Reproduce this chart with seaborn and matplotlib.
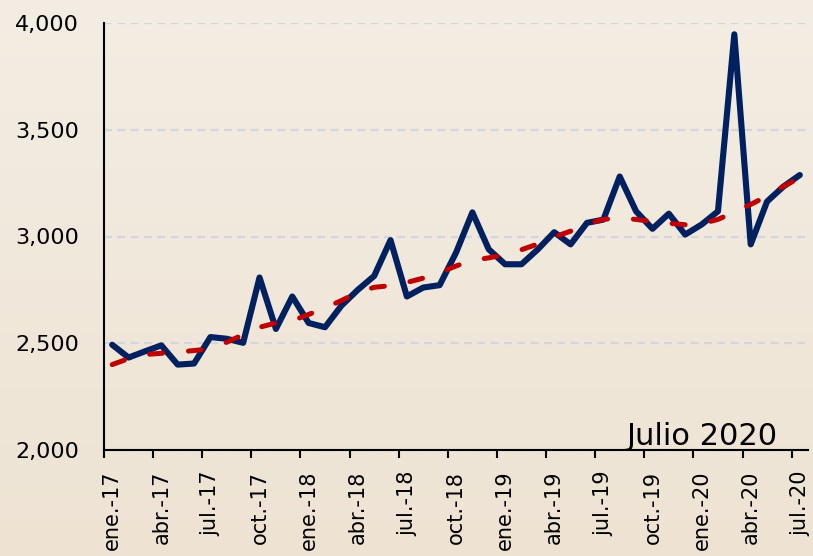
####################     importations     ####################
import numpy as np
import pandas as pd
import matplotlib
matplotlib.use('Agg')
import seaborn as sns
import matplotlib.pyplot as plt
from matplotlib.ticker import FuncFormatter


####################       donnees        ####################

# serie mensuelle ene-17 ... jul-20 (43 meses)
valores = [2493, 2433, 2462, 2490, 2400, 2405, 2529, 2521, 2502, 2808,
           2567, 2719, 2595, 2575, 2676, 2750, 2815, 2983, 2719, 2761,
           2772, 2924, 3113, 2940, 2870, 2870, 2940, 3020, 2963, 3064,
           3079, 3281, 3118, 3036, 3107, 3009, 3056, 3118, 3947, 2963,
           3164, 3234, 3288]

# tendencia (linea roja discontinua)
tendencia = [2400, 2428, 2447, 2453, 2458, 2466, 2474, 2505, 2540, 2575,
             2595, 2605, 2635, 2665, 2700, 2738, 2762, 2770, 2785, 2805,
             2830, 2862, 2888, 2900, 2915, 2938, 2965, 2998, 3025, 3060,
             3080, 3087, 3080, 3070, 3062, 3055, 3060, 3080, 3115, 3150,
             3190, 3235, 3275]

etiquetas = ['ene.-17', 'abr.-17', 'jul.-17', 'oct.-17',
             'ene.-18', 'abr.-18', 'jul.-18', 'oct.-18',
             'ene.-19', 'abr.-19', 'jul.-19', 'oct.-19',
             'ene.-20', 'abr.-20', 'jul.-20']

anotacion = 'Julio 2020'

df = pd.DataFrame({'mes': np.arange(len(valores)),
                   'valor': valores,
                   'tendencia': tendencia})


####################       grafico        ####################

sns.set_theme(style='white')
plt.rcParams['font.family'] = ['DejaVu Sans']

fig = plt.figure(figsize=(8.13, 5.56), dpi=100)

# fondo degradado beige
fondo = fig.add_axes([0, 0, 1, 1], zorder=-1)
top = np.array([243, 237, 227]) / 255
bot = np.array([238, 227, 211]) / 255
t = np.linspace(0, 1, 256)[:, None]
grad = (top * (1 - t) + bot * t)[:, None, :]
fondo.imshow(grad, aspect='auto', extent=[0, 1, 0, 1])
fondo.axis('off')

ax = fig.add_axes([104 / 813, 1 - 450 / 556, 704 / 813, 427 / 556])
ax.set_facecolor('none')

# tendencia
sns.lineplot(data=df, x='mes', y='tendencia', ax=ax, color='#C00000',
             linewidth=3.6, linestyle=(0, (2.6, 5.2)),
             dash_capstyle='round', zorder=3)
# serie
sns.lineplot(data=df, x='mes', y='valor', ax=ax, color='#002060',
             linewidth=4.4, solid_joinstyle='round',
             solid_capstyle='round', zorder=2)

# ejes
ax.set_xlim(-0.5, len(valores) - 0.5)
ax.set_ylim(2000, 4000)
ax.set_xlabel('')
ax.set_ylabel('')

ax.set_yticks(np.arange(2000, 4001, 500))
ax.yaxis.set_major_formatter(FuncFormatter(lambda v, p: f'{v:,.0f}'))
ax.tick_params(axis='y', direction='out', length=6, width=1.5,
               color='black', labelcolor='black', labelsize=16, pad=12)

pos = np.arange(0, len(valores), 3)
ax.set_xticks(pos)
ax.set_xticklabels(etiquetas, rotation=90, va='top', ha='center')
ax.set_xticks(pos - 0.5, minor=True)
ax.tick_params(axis='x', which='major', length=0, labelsize=15, pad=15,
               labelcolor='black')
ax.tick_params(axis='x', which='minor', direction='out', length=6,
               width=1.5, color='black', bottom=True)

# cuadricula discontinua
ax.grid(axis='y', color='#D3D6DC', linewidth=1.6, linestyle=(0, (3.5, 2.5)))
ax.set_axisbelow(True)

sns.despine(ax=ax)
for s in ['left', 'bottom']:
    ax.spines[s].set_color('black')
    ax.spines[s].set_linewidth(1.5)
    ax.spines[s].set_zorder(4)

ax.text(0.957, 0.012, anotacion, transform=ax.transAxes, ha='right',
        va='baseline', fontsize=22, color='black')

plt.savefig('out.png', dpi=100)
plt.close()
